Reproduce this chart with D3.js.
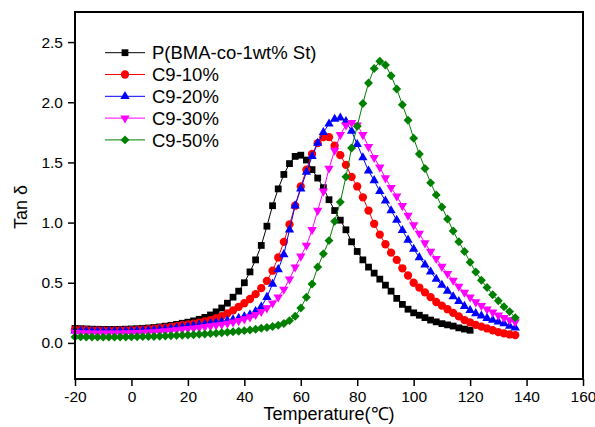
<!DOCTYPE html>
<html>
<head>
<meta charset="utf-8">
<script src="https://cdn.jsdelivr.net/npm/d3@7"></script>
<style>
    body { margin: 0; background: #fff; }
    text { font-family: "Liberation Sans", Arial, sans-serif; fill: #000; }
</style>
</head>
<body>
<svg id="chart" width="595" height="427"></svg>
<script>
        // Temperature points (°C)
        const tempC = [-20, -18, -16, -14, -12, -10, -8, -6, -4, -2,
            0, 2, 4, 6, 8, 10, 12, 14, 16, 18,
            20, 22, 24, 26, 28, 30, 32, 34, 36, 38,
            40, 42, 44, 46, 48, 50, 52, 54, 56, 58,
            60, 62, 64, 66, 68, 70, 72, 74, 76, 78,
            80, 82, 84, 86, 88, 90, 92, 94, 96, 98,
            100, 102, 104, 106, 108, 110, 112, 114, 116, 118,
            120, 122, 124, 126, 128, 130, 132, 134, 136];

        // Tan delta values for each sample
        const tanPBMA = [0.120, 0.118, 0.116, 0.114, 0.113, 0.112, 0.112, 0.112, 0.113, 0.114,
            0.116, 0.118, 0.121, 0.124, 0.128, 0.133, 0.139, 0.146, 0.154, 0.163,
            0.172, 0.183, 0.196, 0.212, 0.232, 0.258, 0.290, 0.330, 0.380, 0.430,
            0.500, 0.590, 0.690, 0.810, 0.970, 1.14, 1.28, 1.40, 1.49, 1.55,
            1.56, 1.52, 1.44, 1.37, 1.29, 1.19, 1.10, 1.02, 0.94, 0.84,
            0.76, 0.69, 0.63, 0.58, 0.53, 0.48, 0.43, 0.37, 0.32, 0.28,
            0.25, 0.23, 0.21, 0.19, 0.175, 0.16, 0.15, 0.14, 0.125, 0.115,
            0.105];
        const tanC9_10 = [0.110, 0.108, 0.106, 0.104, 0.103, 0.102, 0.102, 0.102, 0.103, 0.104,
            0.106, 0.108, 0.111, 0.114, 0.118, 0.122, 0.127, 0.133, 0.140, 0.147,
            0.153, 0.160, 0.168, 0.178, 0.190, 0.205, 0.222, 0.245, 0.270, 0.300,
            0.330, 0.365, 0.405, 0.455, 0.515, 0.600, 0.710, 0.840, 0.985, 1.14,
            1.30, 1.44, 1.57, 1.66, 1.71, 1.71, 1.64, 1.56, 1.48, 1.38,
            1.30, 1.21, 1.10, 0.99, 0.90, 0.82, 0.75, 0.69, 0.62, 0.56,
            0.50, 0.46, 0.42, 0.38, 0.34, 0.31, 0.28, 0.25, 0.22, 0.19,
            0.17, 0.15, 0.135, 0.12, 0.105, 0.09, 0.08, 0.07, 0.065];
        const tanC9_20 = [0.100, 0.099, 0.098, 0.097, 0.096, 0.096, 0.096, 0.096, 0.096, 0.097,
            0.098, 0.100, 0.102, 0.104, 0.107, 0.110, 0.114, 0.119, 0.125, 0.131,
            0.137, 0.143, 0.149, 0.155, 0.162, 0.169, 0.177, 0.185, 0.194, 0.205,
            0.218, 0.234, 0.262, 0.300, 0.380, 0.490, 0.610, 0.735, 0.940, 1.14,
            1.28, 1.42, 1.55, 1.66, 1.75, 1.82, 1.86, 1.87, 1.84, 1.76,
            1.65, 1.54, 1.43, 1.35, 1.26, 1.18, 1.10, 1.02, 0.935, 0.855,
            0.780, 0.710, 0.650, 0.590, 0.530, 0.480, 0.430, 0.385, 0.345, 0.305,
            0.270, 0.245, 0.225, 0.205, 0.190, 0.175, 0.160, 0.140, 0.125];
        const tanC9_30 = [0.085, 0.083, 0.082, 0.081, 0.080, 0.080, 0.080, 0.080, 0.081, 0.082,
            0.083, 0.085, 0.087, 0.089, 0.092, 0.095, 0.099, 0.103, 0.108, 0.113,
            0.118, 0.123, 0.128, 0.134, 0.140, 0.147, 0.154, 0.162, 0.172, 0.184,
            0.198, 0.215, 0.235, 0.260, 0.290, 0.330, 0.380, 0.445, 0.530, 0.630,
            0.720, 0.810, 0.940, 1.10, 1.26, 1.45, 1.60, 1.73, 1.81, 1.83,
            1.81, 1.73, 1.63, 1.54, 1.46, 1.37, 1.29, 1.22, 1.14, 1.06,
            0.980, 0.910, 0.830, 0.760, 0.700, 0.635, 0.575, 0.520, 0.470, 0.420,
            0.380, 0.340, 0.310, 0.280, 0.255, 0.230, 0.210, 0.190, 0.175];
        const tanC9_50 = [0.050, 0.050, 0.049, 0.049, 0.048, 0.048, 0.048, 0.048, 0.049, 0.049,
            0.050, 0.051, 0.052, 0.053, 0.054, 0.055, 0.057, 0.059, 0.061, 0.063,
            0.065, 0.068, 0.071, 0.074, 0.077, 0.080, 0.084, 0.088, 0.092, 0.097,
            0.102, 0.108, 0.114, 0.121, 0.128, 0.136, 0.146, 0.162, 0.185, 0.222,
            0.290, 0.380, 0.490, 0.630, 0.740, 0.850, 1.01, 1.17, 1.38, 1.62,
            1.80, 1.99, 2.16, 2.28, 2.34, 2.31, 2.22, 2.11, 1.98, 1.85,
            1.70, 1.57, 1.45, 1.33, 1.23, 1.13, 1.03, 0.93, 0.84, 0.76,
            0.67, 0.59, 0.52, 0.46, 0.40, 0.35, 0.30, 0.26, 0.21];

        const seriesNames = ["P(BMA-co-1wt% St)", "C9-10%", "C9-20%", "C9-30%", "C9-50%"];
        const seriesValues = [tanPBMA, tanC9_10, tanC9_20, tanC9_30, tanC9_50];
        const seriesColors = ["#000000", "#ff0000", "#0000ff", "#ff00ff", "#008000"];

        const xTicks = [-20, 0, 20, 40, 60, 80, 100, 120, 140, 160];
        const yTicks = [0.0, 0.5, 1.0, 1.5, 2.0, 2.5];

        // Plot box
        const plotLeft = 75, plotRight = 583, plotTop = 12, plotBottom = 379;

        const svg = d3.select("#chart");

        const x = d3.scaleLinear().domain([-20, 160]).range([plotLeft, plotRight]);
        const y = d3.scaleLinear().domain([-0.3, 2.75]).range([plotBottom, plotTop]);

        // Marker shapes
        const symbols = [
            d3.symbol().type(d3.symbolSquare).size(46),
            d3.symbol().type(d3.symbolCircle).size(54),
            d3.symbol().type(d3.symbolTriangle).size(38),
            d3.symbol().type(d3.symbolTriangle).size(38),
            d3.symbol().type(d3.symbolSquare).size(40)
        ];
        const rotations = [0, 0, 0, 180, 45];

        const line = d3.line()
            .x(d => x(d[0]))
            .y(d => y(d[1]));

        // Series
        seriesValues.forEach((vals, i) => {
            const pts = vals.map((v, k) => [tempC[k], v]);
            const g = svg.append("g").attr("class", "series");

            g.append("path")
                .datum(pts)
                .attr("d", line)
                .attr("fill", "none")
                .attr("stroke", seriesColors[i])
                .attr("stroke-width", 1);

            g.selectAll("path.marker")
                .data(pts)
                .enter()
                .append("path")
                .attr("class", "marker")
                .attr("d", symbols[i])
                .attr("fill", seriesColors[i])
                .attr("transform", d => `translate(${x(d[0])},${y(d[1])}) rotate(${rotations[i]})`);
        });

        // Axes (plain hyphen for negatives)
        const xAxis = d3.axisBottom(x).tickValues(xTicks).tickSize(7).tickPadding(5)
            .tickFormat(d => String(d));
        const yAxis = d3.axisLeft(y).tickValues(yTicks).tickSize(7).tickPadding(5)
            .tickFormat(d => d.toFixed(1));

        const gx = svg.append("g")
            .attr("transform", `translate(0,${plotBottom})`)
            .call(xAxis);
        const gy = svg.append("g")
            .attr("transform", `translate(${plotLeft},0)`)
            .call(yAxis);

        [gx, gy].forEach(g => {
            g.select(".domain").remove();
            g.selectAll(".tick line").attr("stroke", "#000").attr("stroke-width", 1.5);
            g.selectAll(".tick text")
                .style("font-family", "'Liberation Sans', Arial, sans-serif")
                .style("font-size", "15.5px")
                .attr("fill", "#000");
        });

        // Frame
        svg.append("rect")
            .attr("x", plotLeft)
            .attr("y", plotTop)
            .attr("width", plotRight - plotLeft)
            .attr("height", plotBottom - plotTop)
            .attr("fill", "none")
            .attr("stroke", "#000")
            .attr("stroke-width", 2);

        // Axis titles
        svg.append("text")
            .attr("x", (plotLeft + plotRight) / 2)
            .attr("y", 420)
            .attr("text-anchor", "middle")
            .style("font-size", "18px")
            .text("Temperature(℃)");

        svg.append("text")
            .attr("transform", "translate(27,207) rotate(-90)")
            .attr("text-anchor", "middle")
            .style("font-size", "18px")
            .text("Tan δ");

        // Legend
        const legend = svg.append("g").attr("class", "legend");
        seriesNames.forEach((name, i) => {
            const ly = 52.7 + i * 21.8;
            legend.append("line")
                .attr("x1", 105).attr("x2", 145)
                .attr("y1", ly).attr("y2", ly)
                .attr("stroke", seriesColors[i])
                .attr("stroke-width", 1);
            legend.append("path")
                .attr("d", symbols[i])
                .attr("fill", seriesColors[i])
                .attr("transform", `translate(125,${ly}) rotate(${rotations[i]})`);
            legend.append("text")
                .attr("x", 152)
                .attr("y", ly)
                .attr("dy", "0.36em")
                .style("font-size", "18.5px")
                .text(name);
        });
</script>
</body>
</html>
